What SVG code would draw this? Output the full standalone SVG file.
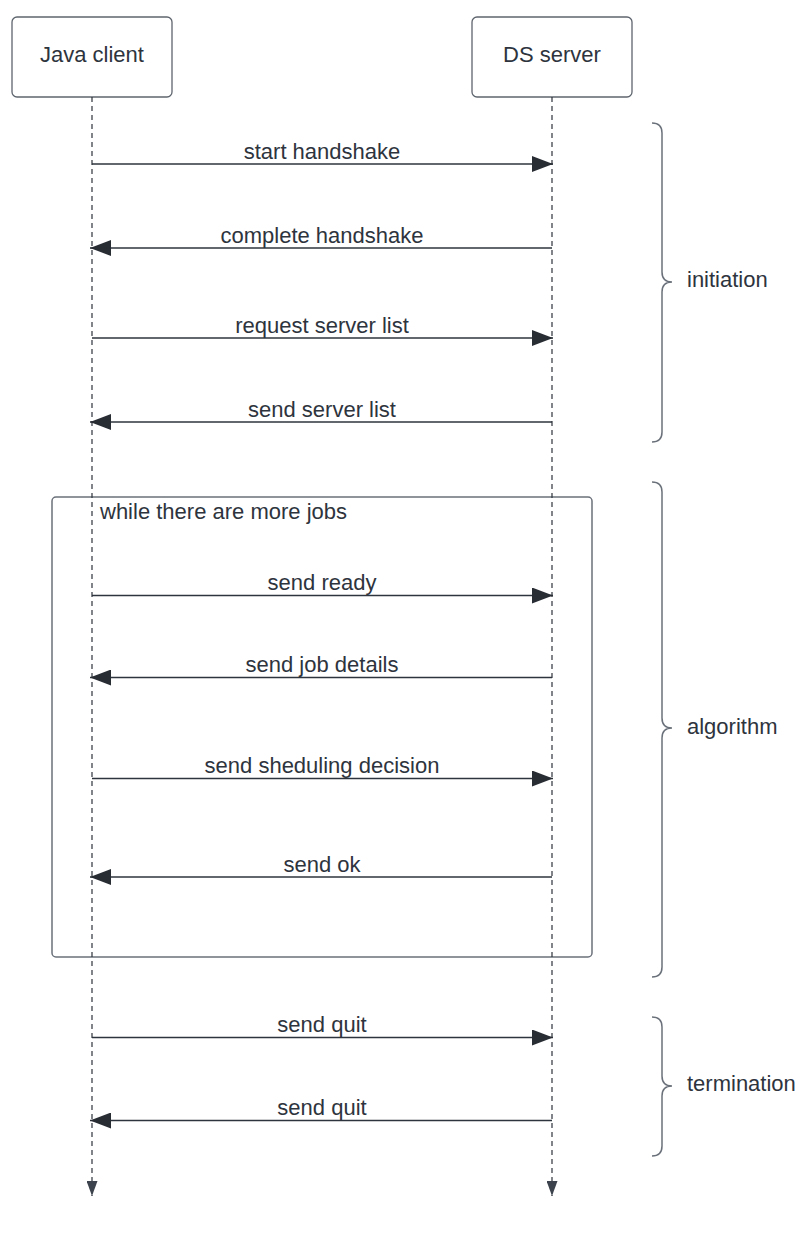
<svg xmlns="http://www.w3.org/2000/svg" width="805" height="1235" viewBox="0 0 805 1235">
<style>
  text { font-family: "Liberation Sans", Arial, sans-serif; font-size: 22px; fill: #2e343d; }
  .lbl { text-anchor: middle; }
  .box { fill: #ffffff; stroke: #5f656e; stroke-width: 1.3; }
  .life { stroke: #2e343d; stroke-width: 1.2; stroke-dasharray: 5 4; fill: none; }
  .msg { stroke: #2e343d; stroke-width: 1.5; fill: none; }
  .brace { stroke: #6b717a; stroke-width: 1.5; fill: none; }
  .frame { fill: none; stroke: #6b717a; stroke-width: 1.5; }
</style>
<defs>
  <marker id="ah" viewBox="0 0 21 16" refX="21" refY="8" markerWidth="21" markerHeight="16" markerUnits="userSpaceOnUse" orient="auto">
    <path d="M0,0 L21,8 L0,16 Z" fill="#282c33"/>
  </marker>
  <marker id="lh" viewBox="0 0 11 15" refX="5.5" refY="15" markerWidth="11" markerHeight="15" markerUnits="userSpaceOnUse" orient="0">
    <path d="M0,0 L11,0 L5.5,15 Z" fill="#3d434c"/>
  </marker>
</defs>
<rect width="805" height="1235" fill="#ffffff"/>

<g id="loop-frame">
  <rect class="frame" x="52" y="497" width="540" height="460" rx="4"/>
  <text x="100" y="519">while there are more jobs</text>
</g>

<g id="java-client">
  <rect class="box" x="12" y="17" width="160" height="80" rx="5"/>
  <text class="lbl" x="92" y="62">Java client</text>
</g>
<g id="ds-server">
  <rect class="box" x="472" y="17" width="160" height="80" rx="5"/>
  <text class="lbl" x="552" y="62">DS server</text>
</g>

<g id="brace-initiation">
  <path class="brace" d="M652,123 Q662,123 662,133 V272 Q662,282 672,282 Q662,282 662,292 V432 Q662,442 652,442"/>
  <text x="687" y="287">initiation</text>
</g>
<g id="brace-algorithm">
  <path class="brace" d="M652,482 Q662,482 662,492 V718 Q662,728 672,728 Q662,728 662,738 V967 Q662,977 652,977"/>
  <text x="687" y="734">algorithm</text>
</g>
<g id="brace-termination">
  <path class="brace" d="M652,1017 Q662,1017 662,1027 V1076 Q662,1086 672,1086 Q662,1086 662,1096 V1146 Q662,1156 652,1156"/>
  <text x="687" y="1091">termination</text>
</g>

<g id="connectors">
  <line class="life" x1="92" y1="97" x2="92" y2="1196" marker-end="url(#lh)"/>
  <line class="life" x1="552" y1="97" x2="552" y2="1196" marker-end="url(#lh)"/>

  <line class="msg" x1="92" y1="164" x2="553" y2="164" marker-end="url(#ah)"/>
  <line class="msg" x1="552" y1="248" x2="90" y2="248" marker-end="url(#ah)"/>
  <line class="msg" x1="92" y1="338" x2="553" y2="338" marker-end="url(#ah)"/>
  <line class="msg" x1="552" y1="422" x2="90" y2="422" marker-end="url(#ah)"/>
  <line class="msg" x1="92" y1="595.5" x2="553" y2="595.5" marker-end="url(#ah)"/>
  <line class="msg" x1="552" y1="677.5" x2="90" y2="677.5" marker-end="url(#ah)"/>
  <line class="msg" x1="92" y1="778.5" x2="553" y2="778.5" marker-end="url(#ah)"/>
  <line class="msg" x1="552" y1="877" x2="90" y2="877" marker-end="url(#ah)"/>
  <line class="msg" x1="92" y1="1037.5" x2="553" y2="1037.5" marker-end="url(#ah)"/>
  <line class="msg" x1="552" y1="1120.5" x2="90" y2="1120.5" marker-end="url(#ah)"/>

  <text class="lbl" x="322" y="159">start handshake</text>
  <text class="lbl" x="322" y="243">complete handshake</text>
  <text class="lbl" x="322" y="333">request server list</text>
  <text class="lbl" x="322" y="417">send server list</text>
  <text class="lbl" x="322" y="590">send ready</text>
  <text class="lbl" x="322" y="672">send job details</text>
  <text class="lbl" x="322" y="773">send sheduling decision</text>
  <text class="lbl" x="322" y="872">send ok</text>
  <text class="lbl" x="322" y="1032">send quit</text>
  <text class="lbl" x="322" y="1115">send quit</text>
</g>
</svg>
